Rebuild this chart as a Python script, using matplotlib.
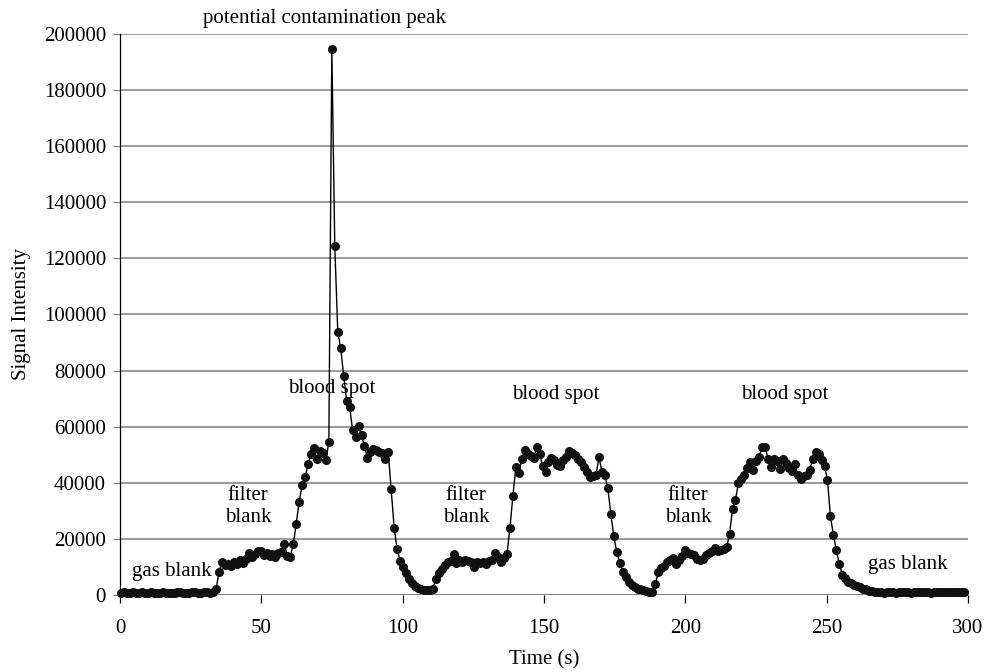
import numpy as np
import matplotlib
matplotlib.use("Agg")
import matplotlib.pyplot as plt

plt.rcParams['font.family'] = ['Liberation Serif', 'DejaVu Serif']

# sampling: one reading every 1.05 s starting at 0.4 s
t_start = 0.4
t_step = 1.05

# signal readings
gas_blank_1 = [600, 900, 700, 800, 1000, 700, 600, 900, 800, 700, 1000, 800,
               600, 700, 900, 800, 700, 600, 800, 1000, 900, 700, 800, 600,
               900, 1100, 800, 700, 900, 1000, 800, 1200, 2100]
filter_blank_1 = [8300, 11900, 10700, 11200, 10400, 11600, 10900, 12600, 11400,
                  12800, 14800, 13600, 14600, 15700, 15800, 14200, 14800, 14000,
                  14700, 13600, 15000, 15200, 18200, 14000, 13700, 18100]
blood_spot_1 = [25300, 33300, 39200, 42000, 46600, 50200, 52500, 48400, 51400,
                50700, 48000, 54700, 194500, 124300, 93900, 87900, 78100, 69200,
                67000, 58800, 56500, 60400, 57000, 53000, 48800, 50800, 52200,
                51800, 51000, 50600, 48400, 51000, 37700, 24000, 16500, 12000,
                10000, 7700, 5600, 4200, 3200, 2400, 2000, 1700, 1700, 1900, 2200]
filter_blank_2 = [5600, 8000, 9400, 10700, 11800, 12200, 14600, 11500, 12300,
                  11900, 12400, 12000, 11600, 9900, 11800, 11500, 11800, 11200,
                  12000, 12500, 15100, 13600, 11800, 13100, 14500]
blood_spot_2 = [23800, 35300, 45500, 43500, 48500, 51800, 50200, 49600, 48700,
                52700, 50400, 46000, 44000, 47500, 48800, 48100, 46500, 46000,
                48200, 49200, 51300, 50500, 49800, 48600, 47400, 45500, 43800,
                42000, 42300, 42800, 49100, 44000, 42600, 38000, 29000, 21000,
                15300, 11500, 8300, 6400, 4700, 3600, 2700, 2300, 2000, 1800,
                1500, 1200, 900]
filter_blank_3 = [3800, 8200, 9800, 10200, 11800, 12500, 13200, 11000, 12400,
                  13900, 16200, 15000, 14600, 14300, 13000, 12500, 13000, 14300,
                  15000, 15800, 16600, 15800, 16000, 16300, 17000]
blood_spot_3 = [21700, 30600, 34000, 39800, 41400, 42800, 45200, 47300, 44600,
                47600, 49300, 52900, 52800, 48400, 45700, 48600, 47800, 44800,
                48600, 47000, 45300, 44200, 46800, 42600, 41400, 42400, 42800,
                44500, 48400, 51000, 50200, 48300, 46000, 41000, 28000, 21400,
                16000, 11000, 7200, 6000, 4800, 4200, 3700, 3100, 2700, 2300,
                2000, 1600, 1300]
gas_blank_2 = [1100, 900, 1000, 800, 1200, 900, 1000, 800, 900, 1100, 1000, 900,
               800, 1000, 1100, 900, 1000, 1200, 900, 800, 1000, 1100, 900, 1000,
               1200, 1000, 900, 1100, 1000, 1200, 1100]

signal = np.array(gas_blank_1 + filter_blank_1 + blood_spot_1 + filter_blank_2
                  + blood_spot_2 + filter_blank_3 + blood_spot_3 + gas_blank_2)
time = t_start + t_step * np.arange(len(signal))

# region labels: (text, x, y)
labels = [
    ("potential contamination peak", 72.5, 205500),
    ("blood spot", 75, 73500),
    ("blood spot", 154, 71500),
    ("blood spot", 235, 71500),
    ("filter\nblank", 45.3, 31500),
    ("filter\nblank", 122.4, 31500),
    ("filter\nblank", 201, 31500),
    ("gas blank", 18.4, 8200),
    ("gas blank", 278.7, 10800),
]

fig = plt.figure(figsize=(9.85, 6.72), dpi=100)
ax = fig.add_axes([0.1218, 0.1146, 0.8609, 0.8348])

ax.plot(time, signal, color='black', lw=1.0, marker='o', ms=5.5,
        markerfacecolor='#111111', markeredgecolor='#111111', zorder=3,
        clip_on=False)

ax.set_xlim(0, 300)
ax.set_ylim(0, 200000)
ax.set_xticks(np.arange(0, 301, 50))
ax.set_yticks(np.arange(0, 200001, 20000))
ax.yaxis.grid(True, color='#7f7f7f', lw=1.1)
ax.set_axisbelow(True)

for side in ('top', 'right', 'bottom'):
    ax.spines[side].set_visible(False)
ax.spines['left'].set_color('black')
ax.spines['left'].set_linewidth(0.9)
ax.axhline(0, color='#7f7f7f', lw=1.3, zorder=1)

ax.tick_params(axis='y', length=5, color='#7f7f7f', labelsize=15, pad=5)
ax.tick_params(axis='x', length=6, color='black', width=0.9, labelsize=15,
               pad=11)

ax.set_xlabel("Time (s)", fontsize=15, labelpad=9)
ax.set_ylabel("Signal Intensity", fontsize=15, labelpad=9)

for txt, x, y in labels:
    ax.text(x, y, txt, ha='center', va='center', fontsize=15,
            linespacing=1.2, clip_on=False)

fig.savefig("out.png", dpi=100)
